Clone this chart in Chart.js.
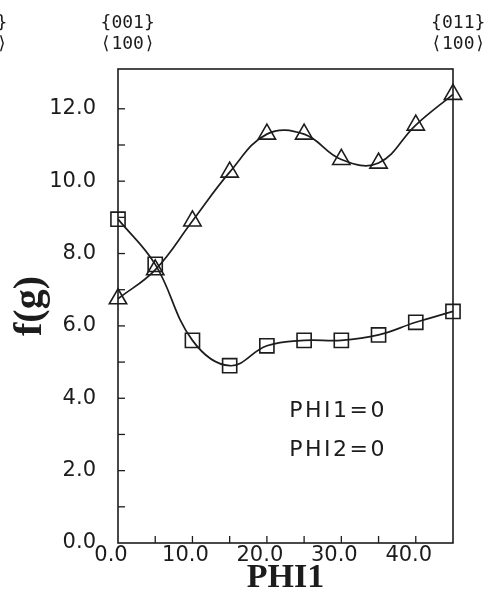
<!DOCTYPE html>
<html>
<head>
<meta charset="utf-8">
<script src="https://cdn.jsdelivr.net/npm/chart.js"></script>
<style>
  html, body { margin: 0; padding: 0; background: #fff; }
  #wrap { width: 485px; height: 599px; }
</style>
</head>
<body>
<div id="wrap"><canvas id="c" width="485" height="599"></canvas></div>
<script>
// values
const phi1 = [0, 5, 10, 15, 20, 25, 30, 35, 40, 45];
const squares = [8.95, 7.7, 5.6, 4.9, 5.45, 5.6, 5.6, 5.75, 6.1, 6.4];
const triangles = [6.75, 7.55, 8.9, 10.25, 11.3, 11.3, 10.6, 10.5, 11.55, 12.4];
const yTicks = [0, 2, 4, 6, 8, 10, 12];
const xTicks = [0, 10, 20, 30, 40];
// orientation labels along the top: {plane} over <direction>
const topLabels = [
  { at: -18.5, plane: '{001}', dir: '\u27E8100\u27E9' },
  { at: 1.3, plane: '{001}', dir: '\u27E8100\u27E9' },
  { at: 45.7, plane: '{011}', dir: '\u27E8100\u27E9' }
];
const notes = ['PHI1=0', 'PHI2=0'];

const ink = '#1c1c1c';
const tickFont = { family: 'DejaVu Sans', size: 21 };

const frame = {
  id: 'frame',
  afterDraw(chart) {
    const { ctx, chartArea: a, scales } = chart;
    const xs = scales.x, ys = scales.y;
    ctx.save();
    ctx.strokeStyle = ink;
    ctx.lineWidth = 1.6;
    ctx.strokeRect(a.left, a.top, a.right - a.left, a.bottom - a.top);
    // inward ticks
    ctx.lineWidth = 1.3;
    for (let v = 1; v <= 12; v++) {
      const y = ys.getPixelForValue(v);
      ctx.beginPath(); ctx.moveTo(a.left, y); ctx.lineTo(a.left + 7, y); ctx.stroke();
    }
    for (let v = 5; v < 45; v += 5) {
      const x = xs.getPixelForValue(v);
      ctx.beginPath(); ctx.moveTo(x, a.bottom); ctx.lineTo(x, a.bottom - 7); ctx.stroke();
    }
    // top labels
    ctx.fillStyle = ink;
    ctx.font = '18px "DejaVu Sans Mono"';
    ctx.textAlign = 'center';
    ctx.textBaseline = 'middle';
    topLabels.forEach(t => {
      const x = xs.getPixelForValue(t.at);
      ctx.fillText(t.plane, x, 23);
      ctx.fillText(t.dir, x, 44);
    });
    // in-plot notes
    ctx.font = '22px "DejaVu Sans"';
    ctx.textAlign = 'left';
    ctx.letterSpacing = '2.5px';
    notes.forEach((n, i) => ctx.fillText(n, xs.getPixelForValue(23), ys.getPixelForValue(3.65 - i * 1.1)));
    ctx.restore();
  }
};

const makeSet = (vals, shape) => ({
  data: phi1.map((x, i) => ({ x, y: vals[i] })),
  borderColor: ink,
  borderWidth: 1.7,
  tension: 0.4,
  pointStyle: shape,
  pointRadius: 10,
  pointBorderWidth: 1.6,
  pointBorderColor: ink,
  pointBackgroundColor: 'rgba(0,0,0,0)',
  clip: false
});

new Chart(document.getElementById('c'), {
  type: 'line',
  data: {
    datasets: [makeSet(squares, 'rect'), makeSet(triangles, 'triangle')]
  },
  options: {
    responsive: false,
    animation: false,
    layout: { padding: { left: 0, top: 69, right: 32, bottom: 0 } },
    plugins: { legend: { display: false }, tooltip: { enabled: false } },
    scales: {
      x: {
        type: 'linear',
        min: 0, max: 45,
        grid: { display: false },
        border: { display: false },
        afterFit: s => { s.height = 56; },
        afterBuildTicks: s => { s.ticks = xTicks.map(v => ({ value: v })); },
        ticks: { color: ink, font: tickFont, padding: -8, labelOffset: -7, maxRotation: 0,
          callback: v => v.toFixed(1) },
        title: { display: true, text: 'PHI1', color: ink, padding: { top: 0, bottom: 0 },
          font: { family: 'Liberation Serif', size: 34, weight: 'bold' } }
      },
      y: {
        min: 0, max: 13.1,
        grid: { display: false },
        border: { display: false },
        afterFit: s => { s.width = 118; },
        afterBuildTicks: s => { s.ticks = yTicks.map(v => ({ value: v })); },
        ticks: { color: ink, font: tickFont, padding: 14, callback: v => v.toFixed(1) },
        title: { display: true, text: 'f(g)', color: ink, padding: { top: 7, bottom: 0 },
          font: { family: 'Liberation Serif', size: 40, weight: 'bold' } }
      }
    }
  },
  plugins: [frame]
});
</script>
</body>
</html>
